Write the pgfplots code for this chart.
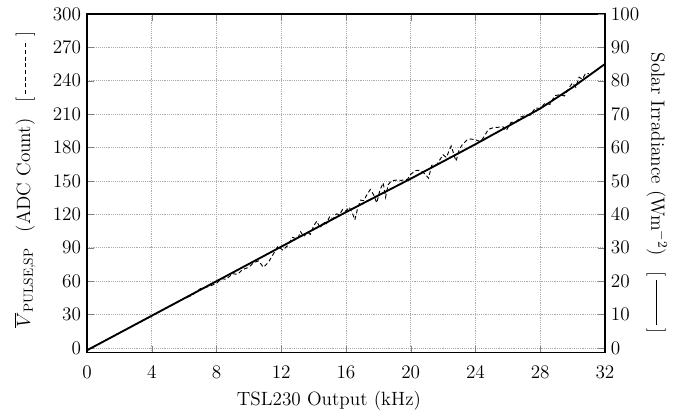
\documentclass[border=0pt]{standalone}
\usepackage{pgfplots}
\pgfplotsset{compat=1.18}
\begin{document}
\begin{tikzpicture}
\pgfplotsset{
  every tick label/.append style={font=\Large},
  every axis label/.append style={font=\Large},
}
% left axis: ADC count
\begin{axis}[
  scale only axis, width=388.5pt, height=254pt,
  xmin=0, xmax=32, ymin=-4, ymax=300,
  xtick={0,4,...,32}, ytick={0,30,...,300},
  tick align=inside, ytick pos=left, xtick pos=both,
  major tick length=5pt,
  axis line style={line width=1.2pt},
  grid=major, grid style={densely dotted, gray!65, line width=0.6pt},
  xticklabel style={yshift=-7pt},
  yticklabel style={xshift=-1pt},
  clip=false,
  xlabel={TSL230 Output (kHz)},
  xlabel style={at={(axis description cs:0.467,-0.142)}, anchor=center},
  ylabel={$\overline{V}_{\mathrm{PULSE,SP}}$\enspace\ (ADC Count)\enspace\ [\,\tikz[baseline=-0.6ex]\draw[densely dashed, line width=0.6pt] (0,0)--(40pt,0);\,]},
  ylabel style={at={(axis description cs:-0.12,0.51)}, anchor=center},
]
\path (axis description cs:-0.168,-0.192) rectangle (axis description cs:1.143,1.041);
\addplot[black, densely dashed, line width=0.7pt] coordinates {
(0,-2)(2,13.5)(4,29)(5,36.75)(6.0,44.5)(6.5,47.4)(7.0,53.3)(7.5,55.1)(8.0,58)(8.3,62.3)
(8.6,61.7)(9.0,66.8)(9.3,66.1)(9.6,70.4)(10.0,72.5)(10.3,76.8)(10.6,78.2)(10.9,72.5)
(11.2,76.8)(11.5,84.1)(11.8,91.5)(12.1,87.8)(12.4,92.1)(12.7,99.4)(13.0,97.8)(13.2,104.3)
(13.4,99.9)(13.6,104.4)(13.8,102)(14.0,109.5)(14.2,114)(14.4,107.6)(14.6,113.2)(14.8,111.7)
(15.0,118.3)(15.2,115.8)(15.4,120.4)(15.6,119.9)(15.8,124.5)(16.0,123)(16.2,126.5)(16.4,121)
(16.55,115.1)(16.7,124.3)(16.9,132.8)(17.1,132.3)(17.3,137.8)(17.5,142.3)(17.7,137.8)(17.9,130.3)
(18.1,141.8)(18.3,148.3)(18.45,135.4)(18.6,146.5)(18.8,150)(19.0,150.5)(19.2,151)(19.4,150.5)
(19.6,151)(19.8,151.5)(20.0,156)(20.3,159.3)(20.6,159.7)(20.9,156)(21.1,152.5)(21.3,164.1)
(21.6,164.4)(21.8,169)(22.0,173.5)(22.2,171.1)(22.5,181.4)(22.8,167.7)(23.0,178.3)(23.2,182.8)
(23.5,187.1)(23.7,187.7)(24.0,187)(24.3,185.4)(24.5,189)(24.8,196.4)(25.1,197.8)(25.4,198.2)
(25.7,198.6)(25.9,195.2)(26.2,202.6)(26.5,203)(26.8,207.4)(27.1,208.8)(27.4,209.2)(27.7,215.6)
(28.0,215)(28.3,219.9)(28.6,218.7)(28.9,226.6)(29.2,227.4)(29.5,226.3)(29.8,234.1)(30.0,238)
(30.2,234.1)(30.4,243.2)(30.6,241.3)(30.8,246.4)(31.0,246.5)
};
\end{axis}
% right axis: solar irradiance
\begin{axis}[
  scale only axis, width=388.5pt, height=254pt,
  xmin=0, xmax=32, ymin=-1.333, ymax=100,
  ytick={0,10,...,100},
  axis x line=none, axis y line*=right,
  tick align=inside, major tick length=5pt,
  axis line style={line width=1.2pt},
  yticklabel style={xshift=1pt},
  ylabel={Solar Irradiance (Wm$^{-2}$)\enspace\ [\,\rule[0.55ex]{34pt}{1pt}\,]},
  ylabel style={at={(axis description cs:1.10,0.47)}, anchor=center, rotate=180},
]
\addplot[black, line width=1.4pt] coordinates {
(0,-0.67)(4,9.67)(8,20)(12,30.33)(16,40.67)(20,50.67)(24,61)(28,71.67)(30,78)(32,85)
};
\end{axis}
\end{tikzpicture}
\end{document}
